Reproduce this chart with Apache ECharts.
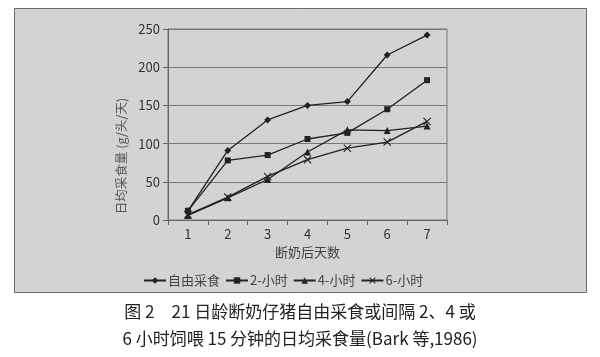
<!DOCTYPE html>
<html><head><meta charset="utf-8">
<script src="https://cdn.jsdelivr.net/npm/echarts@6/dist/echarts.min.js"></script>
<style>html,body{margin:0;padding:0;background:#fff}#c{width:600px;height:357px}</style>
</head><body><div id="c"></div>
<script>
const days = ['1','2','3','4','5','6','7'];
const yTicks = [0, 50, 100, 150, 200, 250];
const seriesNames = ['自由采食', '2-小时', '4-小时', '6-小时'];
const freeFeed = [12, 91, 131, 150, 155, 216, 242];
const twoHour = [12, 78, 85, 106, 114, 145, 183];
const fourHour = [6, 29, 53, 89, 118, 117, 123];
const sixHour = [7, 30, 57, 79, 94, 102, 129];
const xName = '断奶后天数';
const yName = '日均采食量 (g/头/天)';
const caption = '图 2　21 日龄断奶仔猪自由采食或间隔 2、4 或\n6 小时饲喂 15 分钟的日均采食量(Bark 等,1986)';

const font = '"Noto Sans CJK SC", "Liberation Sans", sans-serif';
const xPath = 'path://M0,1L1,0L5,4L9,0L10,1L6,5L10,9L9,10L5,6L1,10L0,9L4,5Z';
const symbols = ['diamond', 'rect', 'triangle', xPath];
const sizes = [7, 6, 7, 8];
const dataSets = [freeFeed, twoHour, fourHour, sixHour];

const chart = echarts.init(document.getElementById('c'));
chart.setOption({
  backgroundColor: '#fff',
  animation: false,
  textStyle: { fontFamily: font },
  graphic: [
    { type: 'rect', z: -10, shape: { x: 14.5, y: 8.5, width: 572, height: 284 },
      style: { fill: '#d3d3d3', stroke: '#6a6a6a', lineWidth: 1 } },
    { type: 'text', left: 'center', top: 298,
      style: { text: caption, fill: '#222', font: '17px ' + font, textAlign: 'center', lineHeight: 27 } },
    { type: 'text', x: 121, y: 156, rotation: Math.PI / 2,
      style: { text: yName, fill: '#555', font: '12.5px ' + font, textAlign: 'center', textVerticalAlign: 'middle' } }
  ],
  grid: { left: 168, top: 29, right: 153, bottom: 137, show: true, borderColor: '#777', borderWidth: 1, backgroundColor: 'transparent' },
  legend: {
    left: 138, top: 269, itemWidth: 22, itemHeight: 8, itemGap: 5,
    textStyle: { fontSize: 13, color: '#444', fontFamily: font, padding: [0, 0, 0, -3] },
    data: seriesNames
  },
  xAxis: {
    type: 'category', data: days, boundaryGap: true,
    axisLine: { lineStyle: { color: '#666' } },
    axisTick: { show: true, length: 5, lineStyle: { color: '#666' } },
    axisLabel: { fontSize: 13, color: '#333', margin: 8 },
    name: xName, nameLocation: 'middle', nameGap: 25,
    nameTextStyle: { fontSize: 13, color: '#444' }
  },
  yAxis: {
    type: 'value', min: yTicks[0], max: yTicks[yTicks.length - 1], interval: 50,
    axisLine: { show: true, lineStyle: { color: '#666' } },
    axisTick: { show: true, length: 5, lineStyle: { color: '#666' } },
    axisLabel: { fontSize: 13, color: '#333', margin: 8 },
    splitLine: { lineStyle: { color: '#777', width: 1 } }
  },
  series: dataSets.map((d, i) => ({
    name: seriesNames[i], type: 'line', data: d,
    symbol: symbols[i], symbolSize: sizes[i], showAllSymbol: true,
    lineStyle: { color: '#222', width: 1.3 },
    itemStyle: { color: '#222' }
  }))
});
</script></body></html>
